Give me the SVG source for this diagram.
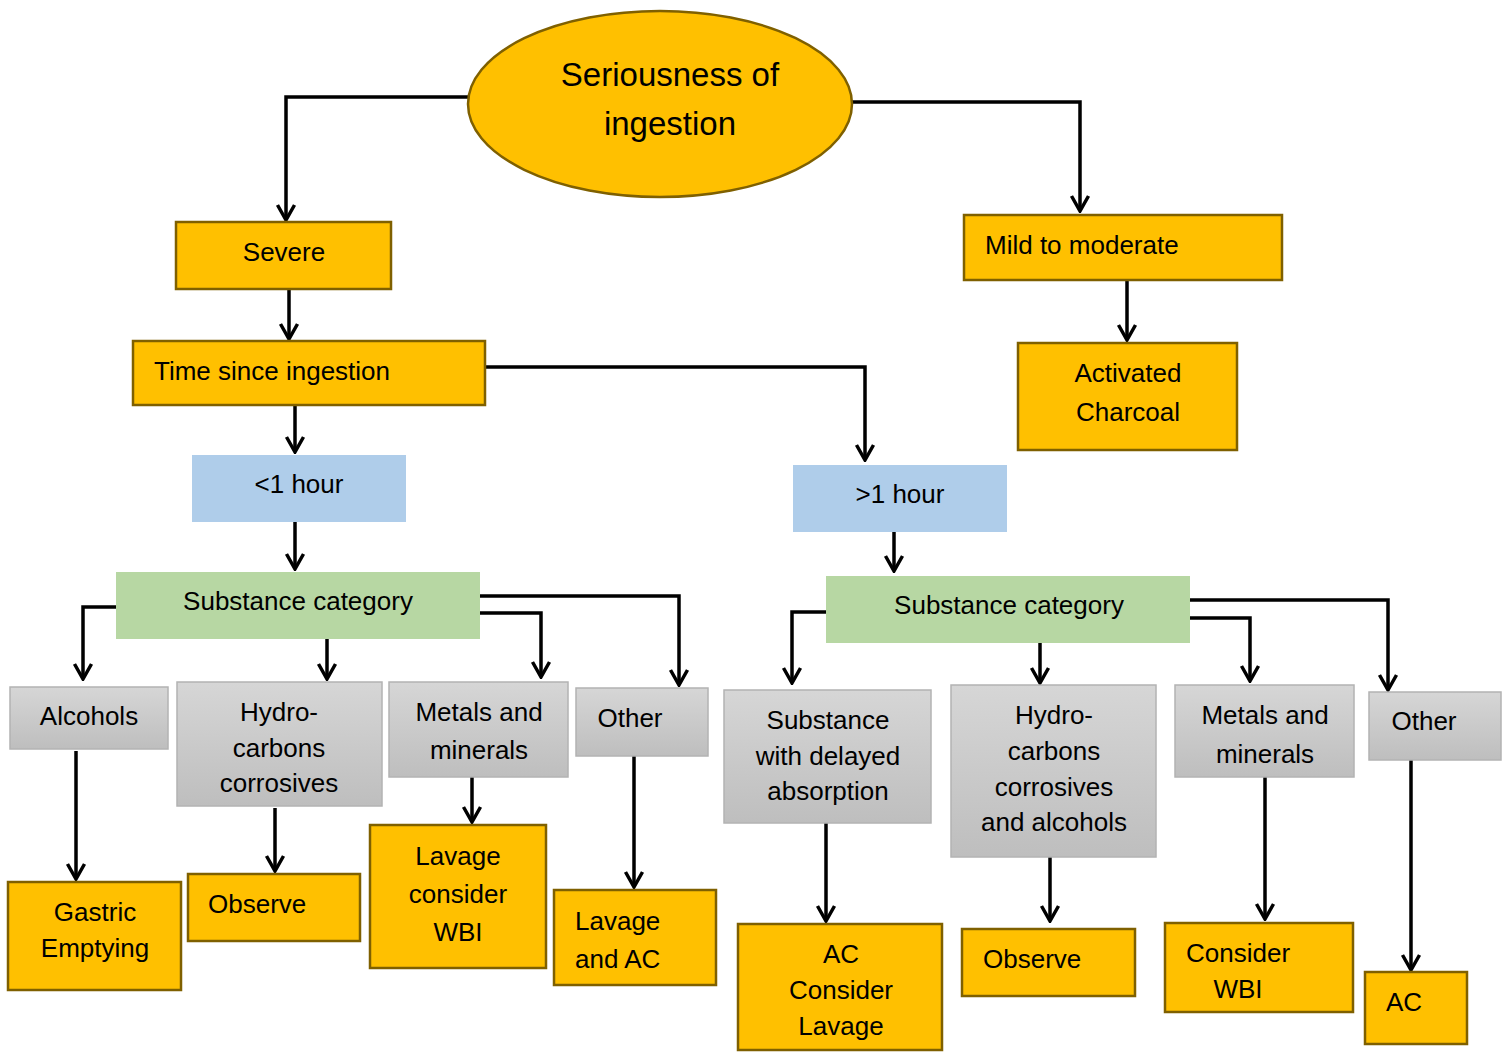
<svg xmlns="http://www.w3.org/2000/svg" width="1511" height="1057" viewBox="0 0 1511 1057">
<defs>
<linearGradient id="gray" x1="0" y1="0" x2="0" y2="1">
<stop offset="0" stop-color="#D6D6D6"/>
<stop offset="1" stop-color="#BEBEBE"/>
</linearGradient>
<marker id="arr" viewBox="-18 -11 20 22" markerWidth="20" markerHeight="22" refX="0" refY="0" orient="auto" markerUnits="userSpaceOnUse">
<path d="M-15,-8.5 L0,0 L-15,8.5" fill="none" stroke="#000" stroke-width="3.5" stroke-linejoin="miter"/>
</marker>
<style>
.o{fill:#FFC000;stroke:#7F6000;stroke-width:2.5}
.b{fill:#AFCDEA}
.g{fill:#B7D7A3}
.s{fill:url(#gray);stroke:#B3B3B3;stroke-width:1.5}
text{font-family:"Liberation Sans",Arial,sans-serif;font-size:26px;fill:#000}
.c{text-anchor:middle}
.e{font-size:33px}
.n{font-size:26px}
.cn path{fill:none;stroke:#000;stroke-width:3.5;marker-end:url(#arr)}
</style>
</defs>
<g class="cn" id="connectors">
<path d="M468,97 H286 V220"/>
<path d="M852,102 H1080 V211"/>
<path d="M289,289 V339"/>
<path d="M1127,280 V340"/>
<path d="M295,405 V452"/>
<path d="M485,367 H865 V460"/>
<path d="M295,522 V569"/>
<path d="M894,532 V571"/>
<path d="M116,607 H83 V679"/>
<path d="M327,639 V679"/>
<path d="M480,613 H541 V677"/>
<path d="M480,596 H679 V685"/>
<path d="M826,612 H792 V683"/>
<path d="M1040,643 V683"/>
<path d="M1190,618 H1250 V681"/>
<path d="M1190,600 H1388 V690"/>
<path d="M76,751 V879"/>
<path d="M275,808 V871"/>
<path d="M472,777 V822"/>
<path d="M634,756 V887"/>
<path d="M826,823 V921"/>
<path d="M1050,857 V921"/>
<path d="M1265,777 V919"/>
<path d="M1411,760 V970"/>
</g>
<g id="root"><ellipse class="o" cx="660" cy="104" rx="192" ry="93"/><text class="c e" x="670" y="86">Seriousness of</text><text class="c e" x="670" y="135">ingestion</text></g>
<g id="severe"><rect class="o" x="176" y="222" width="215" height="67"/><text class="c" x="284" y="261">Severe</text></g>
<g id="mild"><rect class="o" x="964" y="215" width="318" height="65"/><text x="985" y="254">Mild to moderate</text></g>
<g id="charcoal"><rect class="o" x="1018" y="343" width="219" height="107"/><text class="c" x="1128" y="382">Activated</text><text class="c" x="1128" y="421">Charcoal</text></g>
<g id="time"><rect class="o" x="133" y="341" width="352" height="64"/><text x="154" y="380">Time since ingestion</text></g>
<g id="lt1"><rect class="b" x="192" y="455" width="214" height="67"/><text class="c" x="299" y="493">&lt;1 hour</text></g>
<g id="gt1"><rect class="b" x="793" y="465" width="214" height="67"/><text class="c" x="900" y="503">&gt;1 hour</text></g>
<g id="subL"><rect class="g" x="116" y="572" width="364" height="67"/><text class="c" x="298" y="610">Substance category</text></g>
<g id="subR"><rect class="g" x="826" y="576" width="364" height="67"/><text class="c" x="1009" y="614">Substance category</text></g>
<g id="alcohols"><rect class="s" x="10" y="687" width="158" height="62"/><text class="c" x="89" y="725">Alcohols</text></g>
<g id="hydroL"><rect class="s" x="177" y="682" width="205" height="124"/><text class="c" x="279" y="721">Hydro-</text><text class="c" x="279" y="757">carbons</text><text class="c" x="279" y="792">corrosives</text></g>
<g id="metalsL"><rect class="s" x="389" y="682" width="179" height="95"/><text class="c" x="479" y="721">Metals and</text><text class="c" x="479" y="759">minerals</text></g>
<g id="otherL"><rect class="s" x="576" y="688" width="132" height="68"/><text class="c" x="630" y="727">Other</text></g>
<g id="delayed"><rect class="s" x="724" y="690" width="207" height="133"/><text class="c" x="828" y="729">Substance</text><text class="c" x="828" y="765">with delayed</text><text class="c" x="828" y="800">absorption</text></g>
<g id="hydroR"><rect class="s" x="951" y="685" width="205" height="172"/><text class="c" x="1054" y="724">Hydro-</text><text class="c" x="1054" y="760">carbons</text><text class="c" x="1054" y="796">corrosives</text><text class="c" x="1054" y="831">and alcohols</text></g>
<g id="metalsR"><rect class="s" x="1175" y="685" width="179" height="92"/><text class="c" x="1265" y="724">Metals and</text><text class="c" x="1265" y="763">minerals</text></g>
<g id="otherR"><rect class="s" x="1369" y="692" width="132" height="68"/><text class="c" x="1424" y="730">Other</text></g>
<g id="gastric"><rect class="o" x="8" y="882" width="173" height="108"/><text class="c n" x="95" y="921">Gastric</text><text class="c n" x="95" y="957">Emptying</text></g>
<g id="observeL"><rect class="o" x="188" y="874" width="172" height="67"/><text class="n" x="208" y="913">Observe</text></g>
<g id="lavageWBI"><rect class="o" x="370" y="825" width="176" height="143"/><text class="c n" x="458" y="865">Lavage</text><text class="c n" x="458" y="903">consider</text><text class="c n" x="458" y="941">WBI</text></g>
<g id="lavageAC"><rect class="o" x="554" y="890" width="162" height="95"/><text class="n" x="575" y="930">Lavage</text><text class="n" x="575" y="968">and AC</text></g>
<g id="acLavage"><rect class="o" x="738" y="924" width="204" height="126"/><text class="c n" x="841" y="963">AC</text><text class="c n" x="841" y="999">Consider</text><text class="c n" x="841" y="1035">Lavage</text></g>
<g id="observeR"><rect class="o" x="962" y="929" width="173" height="67"/><text class="n" x="983" y="968">Observe</text></g>
<g id="considerWBI"><rect class="o" x="1165" y="923" width="188" height="89"/><text class="n" x="1186" y="962">Consider</text><text class="c n" x="1238" y="998">WBI</text></g>
<g id="ac"><rect class="o" x="1365" y="972" width="102" height="72"/><text class="n" x="1386" y="1011">AC</text></g>
</svg>
